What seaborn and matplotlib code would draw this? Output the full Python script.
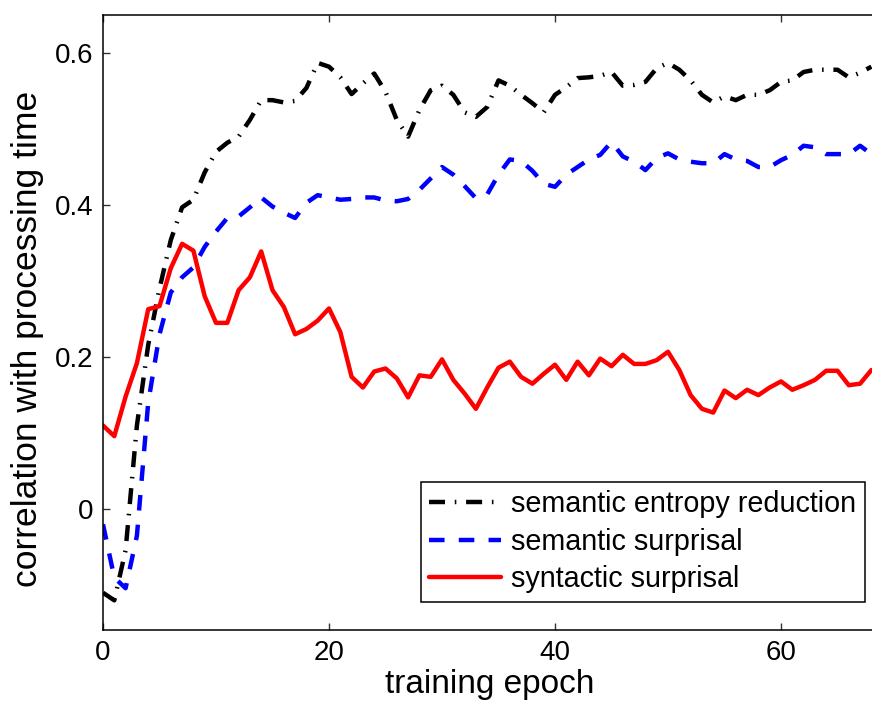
import matplotlib
matplotlib.use('Agg')
import matplotlib.pyplot as plt
import seaborn as sns
import pandas as pd

# correlation of model measures with reading time, per training epoch
epochs = list(range(69))

entropy_reduction = [
    -0.110, -0.120, -0.054, 0.110, 0.216, 0.290, 0.354, 0.397, 0.407, 0.443,
    0.470, 0.482, 0.490, 0.512, 0.538, 0.538, 0.535, 0.537, 0.554, 0.587,
    0.582, 0.568, 0.546, 0.560, 0.573, 0.549, 0.512, 0.490, 0.525, 0.551,
    0.557, 0.545, 0.522, 0.516, 0.529, 0.564, 0.557, 0.545, 0.534, 0.522,
    0.545, 0.555, 0.567, 0.568, 0.570, 0.575, 0.557, 0.558, 0.562, 0.580,
    0.587, 0.578, 0.564, 0.545, 0.535, 0.543, 0.538, 0.545, 0.545, 0.551,
    0.562, 0.564, 0.575, 0.578, 0.578, 0.578, 0.568, 0.574, 0.582,
]

semantic_surprisal = [
    -0.020, -0.090, -0.104, -0.035, 0.140, 0.230, 0.285, 0.305, 0.318, 0.345,
    0.365, 0.383, 0.385, 0.397, 0.410, 0.398, 0.390, 0.383, 0.403, 0.413,
    0.410, 0.407, 0.408, 0.410, 0.410, 0.406, 0.405, 0.408, 0.420, 0.435,
    0.450, 0.440, 0.425, 0.409, 0.414, 0.440, 0.460, 0.458, 0.445, 0.428,
    0.424, 0.440, 0.450, 0.460, 0.466, 0.483, 0.464, 0.457, 0.446, 0.462,
    0.468, 0.460, 0.457, 0.455, 0.455, 0.467, 0.460, 0.458, 0.450, 0.450,
    0.459, 0.466, 0.478, 0.476, 0.467, 0.467, 0.467, 0.478, 0.467,
]

syntactic_surprisal = [
    0.110, 0.096, 0.148, 0.192, 0.263, 0.267, 0.317, 0.349, 0.340, 0.280,
    0.245, 0.245, 0.288, 0.305, 0.339, 0.288, 0.266, 0.230, 0.237, 0.248,
    0.264, 0.233, 0.174, 0.160, 0.181, 0.185, 0.172, 0.147, 0.176, 0.174,
    0.197, 0.170, 0.152, 0.132, 0.160, 0.186, 0.194, 0.174, 0.165, 0.178,
    0.190, 0.170, 0.194, 0.176, 0.198, 0.188, 0.203, 0.191, 0.191, 0.196,
    0.207, 0.183, 0.150, 0.132, 0.127, 0.156, 0.146, 0.157, 0.150, 0.160,
    0.168, 0.157, 0.163, 0.170, 0.182, 0.182, 0.163, 0.165, 0.183,
]

series_names = ['semantic entropy reduction', 'semantic surprisal', 'syntactic surprisal']
series_values = [entropy_reduction, semantic_surprisal, syntactic_surprisal]
colors = {'semantic entropy reduction': 'black',
          'semantic surprisal': '#0000ff',
          'syntactic surprisal': '#ff0000'}
dashes = {'semantic entropy reduction': (3.6, 2.2, 0.35, 2.2),
          'semantic surprisal': (3.5, 3.2),
          'syntactic surprisal': ''}

df = pd.concat([
    pd.DataFrame({'epoch': epochs, 'corr': vals, 'measure': name})
    for name, vals in zip(series_names, series_values)
], ignore_index=True)

sns.set_style('ticks')
plt.rcParams['font.family'] = ['Liberation Sans', 'DejaVu Sans']
plt.rcParams['xtick.direction'] = 'in'
plt.rcParams['ytick.direction'] = 'in'
plt.rcParams['text.color'] = 'black'
plt.rcParams['axes.labelcolor'] = 'black'

fig = plt.figure(figsize=(8.72, 7.02), dpi=100)
ax = fig.add_axes([103 / 872, 72 / 702, 1 - 103 / 872, 615 / 702])

sns.lineplot(data=df, x='epoch', y='corr', hue='measure', style='measure',
             hue_order=series_names, style_order=series_names,
             palette=colors, dashes=dashes, linewidth=3.2, ax=ax)

ax.set_xlim(0, (872 - 103) / 11.3)
ax.set_ylim(-0.159, 0.65)
ax.set_xticks([0, 20, 40, 60])
ax.set_yticks([0, 0.2, 0.4, 0.6])
ax.set_yticklabels(['0', '0.2', '0.4', '0.6'])
ax.tick_params(axis='both', labelsize=20, length=5, width=1.0, top=True,
               color='#333333', labelcolor='black', pad=7)

for side in ['left', 'bottom', 'top']:
    ax.spines[side].set_linewidth(1.1)
    ax.spines[side].set_color('black')
ax.spines['right'].set_visible(False)

ax.set_xlabel('training epoch', fontsize=24)
ax.set_ylabel('correlation with processing time', fontsize=25.5)
ax.xaxis.set_label_coords(0.503, -0.063)
ax.yaxis.set_label_coords(-0.077, 0.473)

handles, labels = ax.get_legend_handles_labels()
leg = ax.legend(handles, labels, loc='lower right', bbox_to_anchor=(0.991, 0.0455),
                borderaxespad=0, fontsize=20.7, handlelength=2.5, handletextpad=0.35,
                labelspacing=0.33, borderpad=0.3, fancybox=False, framealpha=1,
                edgecolor='black')
leg.get_frame().set_linewidth(1.1)
for line in leg.get_lines():
    line.set_linewidth(3.2)

fig.savefig('out.png', dpi=100)
